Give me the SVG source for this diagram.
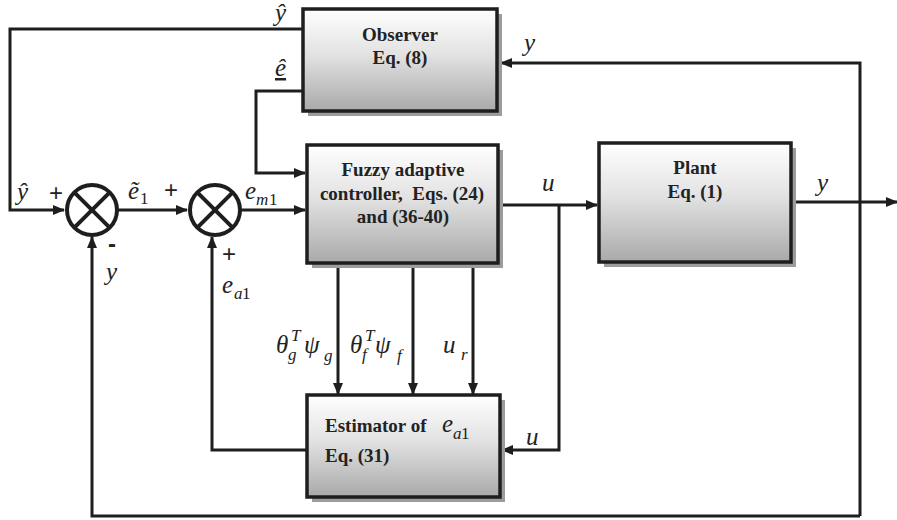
<svg xmlns="http://www.w3.org/2000/svg" width="897" height="520" viewBox="0 0 897 520">
<defs>
<linearGradient id="boxg" x1="0" y1="0" x2="0" y2="1">
<stop offset="0" stop-color="#ffffff"/>
<stop offset="0.45" stop-color="#e2e2e2"/>
<stop offset="1" stop-color="#a9a9a9"/>
</linearGradient>
<marker id="arr" viewBox="0 0 12 10" refX="11" refY="5" markerWidth="12" markerHeight="10" markerUnits="userSpaceOnUse" orient="auto">
<path d="M0,0 L12,5 L0,10 Z" fill="#1e1e1e"/>
</marker>
<style>
.box{fill:url(#boxg);stroke:#1e1e1e;stroke-width:3.5}
.shadow{fill:#9c9c9c}
.ln{fill:none;stroke:#1e1e1e;stroke-width:3;stroke-linejoin:miter}
.arw{marker-end:url(#arr)}
.bt{font-family:"Liberation Serif","DejaVu Serif",serif;font-weight:bold;font-size:19px;fill:#222;text-anchor:middle}
.btl{font-family:"Liberation Serif","DejaVu Serif",serif;font-weight:bold;font-size:19px;fill:#222}
.it{font-family:"Liberation Serif","DejaVu Serif",serif;font-style:italic;font-size:25px;fill:#222}
.sub{font-family:"Liberation Serif","DejaVu Serif",serif;font-style:italic;font-size:17px;fill:#222}
.subn{font-family:"Liberation Serif","DejaVu Serif",serif;font-size:17px;fill:#222}
.sg{font-family:"Liberation Sans",Arial,sans-serif;font-size:24px;fill:#222}
.sum{fill:#ffffff;stroke:#1e1e1e;stroke-width:4}
.x{stroke:#1e1e1e;stroke-width:4}
</style>
</defs>
<rect width="897" height="520" fill="#ffffff"/>

<g id="connectors">
<path class="ln arw" d="M303,29 H10 V210 H64"/>
<path class="ln arw" d="M118,210 H187"/>
<path class="ln arw" d="M241,210 H305"/>
<path class="ln arw" d="M303,91 H256 V173 H305"/>
<path class="ln arw" d="M497,205 H597"/>
<path class="ln arw" d="M559,205 V450 H502"/>
<path class="ln arw" d="M791,202 H897"/>
<path class="ln arw" d="M860,516 V63 H501"/>
<path class="ln arw" d="M860,516 H92 V237"/>
<path class="ln arw" d="M338,264 V394"/>
<path class="ln arw" d="M413,264 V394"/>
<path class="ln arw" d="M473,264 V394"/>
<path class="ln arw" d="M307,450 H212 V237"/>
</g>

<g id="observer">
<rect class="shadow" x="308" y="14" width="194" height="102"/>
<rect class="box" x="303" y="9" width="194" height="102"/>
<text class="bt" x="400" y="41">Observer</text>
<text class="bt" x="400" y="64">Eq. (8)</text>
</g>

<g id="controller">
<rect class="shadow" x="312" y="150" width="191" height="118"/>
<rect class="box" x="307" y="145" width="191" height="118"/>
<text class="bt" x="403" y="176">Fuzzy adaptive</text>
<text class="bt" x="402" y="200" xml:space="preserve">controller,  Eqs. (24)</text>
<text class="bt" x="403" y="223">and (36-40)</text>
</g>

<g id="plant">
<rect class="shadow" x="604" y="148" width="192" height="119"/>
<rect class="box" x="599" y="143" width="192" height="119"/>
<text class="bt" x="695" y="174">Plant</text>
<text class="bt" x="695" y="198">Eq. (1)</text>
</g>

<g id="estimator">
<rect class="shadow" x="312" y="400" width="193" height="102"/>
<rect class="box" x="307" y="395" width="193" height="102"/>
<text class="btl" x="325" y="432">Estimator of</text>
<text class="it" x="442" y="432">e</text>
<text class="sub" x="453" y="439">a</text>
<text class="subn" x="461" y="439">1</text>
<text class="btl" x="325" y="462">Eq. (31)</text>
</g>

<g id="sum1">
<circle class="sum" cx="92" cy="210" r="25"/>
<line class="x" x1="74.3" y1="192.3" x2="109.7" y2="227.7"/>
<line class="x" x1="109.7" y1="192.3" x2="74.3" y2="227.7"/>
</g>

<g id="sum2">
<circle class="sum" cx="215" cy="210" r="25"/>
<line class="x" x1="197.3" y1="192.3" x2="232.7" y2="227.7"/>
<line class="x" x1="232.7" y1="192.3" x2="197.3" y2="227.7"/>
</g>

<g id="labels">
<text class="it" x="275" y="21">ŷ</text>
<text class="it" x="275" y="76" text-decoration="underline">ê</text>
<text class="it" x="524" y="51">y</text>
<text class="it" x="17" y="200">ŷ</text>
<text class="sg" x="49" y="201">+</text>
<text class="it" x="128" y="199">ẽ</text>
<text class="subn" x="140" y="204">1</text>
<text class="sg" x="164" y="198">+</text>
<text class="it" x="245" y="199">e</text>
<text class="sub" x="256" y="205">m</text>
<text class="subn" x="269" y="205">1</text>
<text class="sg" x="108" y="252" font-weight="bold">-</text>
<text class="it" x="106" y="280">y</text>
<text class="sg" x="222" y="262">+</text>
<text class="it" x="222" y="293">e</text>
<text class="sub" x="234" y="299">a</text>
<text class="subn" x="242" y="299">1</text>
<text class="it" x="542" y="191">u</text>
<text class="it" x="817" y="191">y</text>
<text class="it" x="526" y="445">u</text>
<text class="it" x="276" y="353">θ</text>
<text class="sub" x="288" y="360">g</text>
<text class="sub" x="291" y="341">T</text>
<text class="it" x="304" y="353">ψ</text>
<text class="sub" x="324" y="361">g</text>
<text class="it" x="350" y="353">θ</text>
<text class="sub" x="362" y="360">f</text>
<text class="sub" x="365" y="341">T</text>
<text class="it" x="375" y="353">ψ</text>
<text class="sub" x="397" y="361">f</text>
<text class="it" x="443" y="353">u</text>
<text class="sub" x="461" y="360">r</text>
</g>
</svg>
